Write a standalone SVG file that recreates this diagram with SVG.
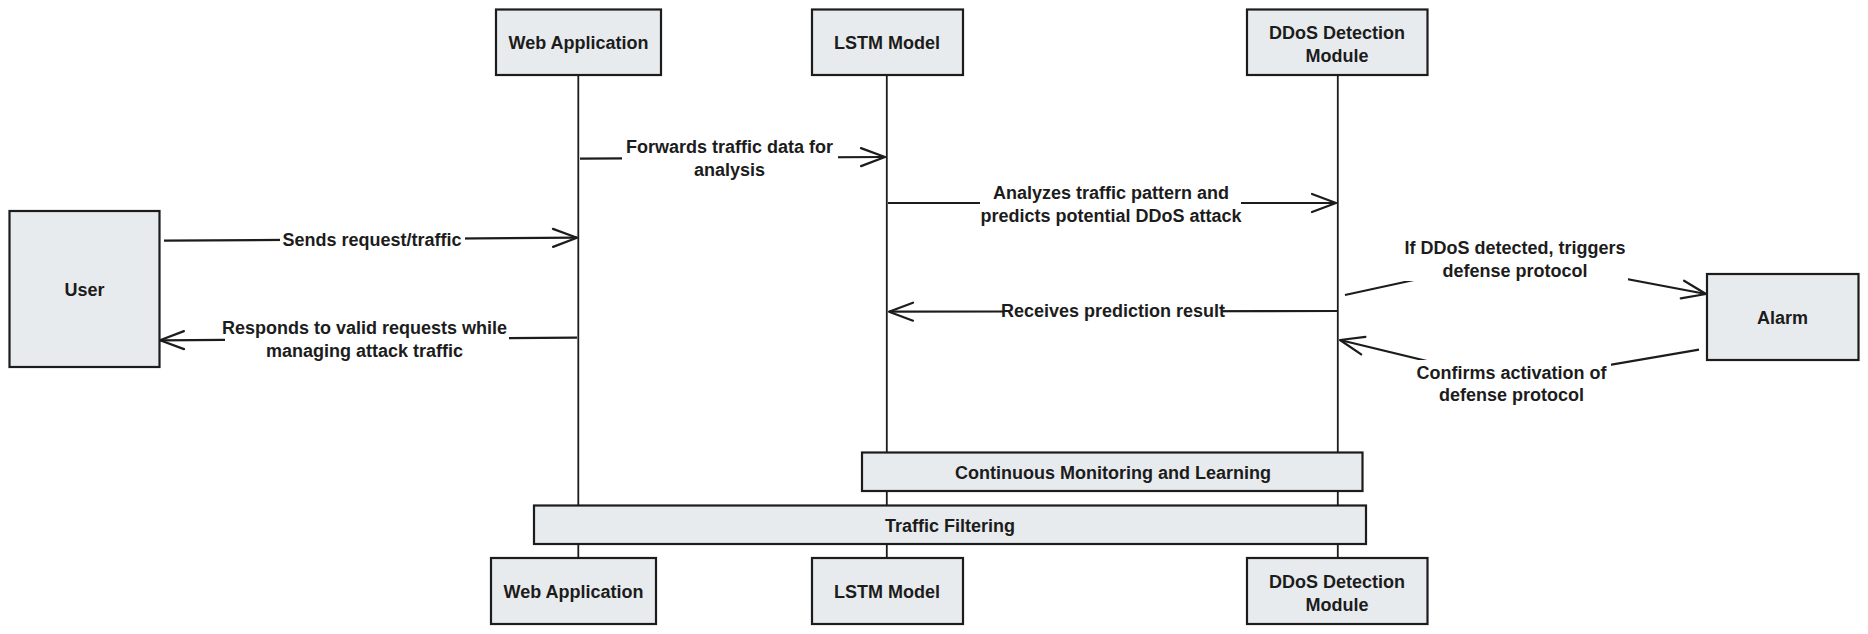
<svg xmlns="http://www.w3.org/2000/svg" width="1868" height="634" viewBox="0 0 1868 634">
<defs>
<style>
.box{fill:#e8ebee;stroke:#1c1c1c;stroke-width:2.2}
.life{stroke:#1c1c1c;stroke-width:1.8;fill:none}
.msg{stroke:#1c1c1c;stroke-width:2.2;fill:none;marker-end:url(#arrow)}
.lbl{fill:#ffffff;stroke:none}
text{font-family:"Liberation Sans",Arial,sans-serif;font-weight:bold;font-size:18px;fill:#1c1c1c;text-anchor:middle}
</style>
<marker id="arrow" markerUnits="userSpaceOnUse" viewBox="-28 -12 30 24" refX="0" refY="0" markerWidth="30" markerHeight="24" orient="auto" overflow="visible">
<path d="M-24,-9 L0,0 L-24,9" fill="none" stroke="#1c1c1c" stroke-width="2.2" stroke-linecap="round" stroke-linejoin="round"/>
</marker>
</defs>
<rect width="1868" height="634" fill="#ffffff"/>
<g id="lifelines">
<line class="life" x1="578.3" y1="75" x2="578.3" y2="558"/>
<line class="life" x1="886.8" y1="75" x2="886.8" y2="558"/>
<line class="life" x1="1337.8" y1="75" x2="1337.8" y2="558"/>
</g>
<g id="connectors">
<path class="msg" d="M164,240.7 L577,237.7"/>
<path class="msg" d="M580,158.7 L885,157"/>
<path class="msg" d="M888,203 L1336,203"/>
<path class="msg" d="M1337,311 L889,311.7"/>
<path class="msg" d="M577,337.7 L160,340.3"/>
<path class="msg" d="M1345,295 L1515,258 L1706,294"/>
<path class="msg" d="M1699,349.7 L1512,381.6 L1340,340"/>
</g>
<g id="connector-labels">
<rect class="lbl" x="280" y="230" width="185" height="21"/>
<text x="372" y="246">Sends request/traffic</text>
<rect class="lbl" x="622" y="138" width="216" height="44"/>
<text x="729.5" y="153">Forwards traffic data for</text>
<text x="729.5" y="176">analysis</text>
<rect class="lbl" x="980" y="183" width="261" height="43"/>
<text x="1111" y="198.5">Analyzes traffic pattern and</text>
<text x="1111" y="221.5">predicts potential DDoS attack</text>
<rect class="lbl" x="1003" y="302" width="219" height="19"/>
<text x="1113" y="317">Receives prediction result</text>
<rect class="lbl" x="225" y="318" width="284" height="44"/>
<text x="364.5" y="333.5">Responds to valid requests while</text>
<text x="364.5" y="356.5">managing attack traffic</text>
<rect class="lbl" x="1405" y="238" width="223" height="43"/>
<text x="1515" y="254">If DDoS detected, triggers</text>
<text x="1515" y="277">defense protocol</text>
<rect class="lbl" x="1416" y="360" width="195" height="45"/>
<text x="1511.5" y="378.5">Confirms activation of</text>
<text x="1511.5" y="401">defense protocol</text>
</g>
<g id="web-app-top"><rect class="box" x="496" y="9.5" width="165" height="65.5"/><text x="578.5" y="48.8">Web Application</text></g>
<g id="lstm-top"><rect class="box" x="812" y="9.5" width="151" height="65.5"/><text x="887" y="48.8">LSTM Model</text></g>
<g id="ddos-top"><rect class="box" x="1247" y="9.5" width="180.5" height="65.5"/><text x="1337" y="38.5">DDoS Detection</text><text x="1337" y="61.5">Module</text></g>
<g id="user"><rect class="box" x="9.5" y="211" width="150" height="156"/><text x="84.5" y="296">User</text></g>
<g id="alarm"><rect class="box" x="1707" y="274" width="151.5" height="86"/><text x="1782.5" y="323.5">Alarm</text></g>
<g id="continuous-monitoring"><rect class="box" x="862" y="452.5" width="500.5" height="38.5"/><text x="1113" y="478.5">Continuous Monitoring and Learning</text></g>
<g id="traffic-filtering"><rect class="box" x="534" y="505.5" width="832" height="38.5"/><text x="950" y="531.5">Traffic Filtering</text></g>
<g id="web-app-bottom"><rect class="box" x="491" y="558" width="165" height="66"/><text x="573.5" y="597.5">Web Application</text></g>
<g id="lstm-bottom"><rect class="box" x="812" y="558" width="151" height="66"/><text x="887" y="597.5">LSTM Model</text></g>
<g id="ddos-bottom"><rect class="box" x="1247" y="558" width="180.5" height="66"/><text x="1337" y="587.5">DDoS Detection</text><text x="1337" y="610.5">Module</text></g>
</svg>
